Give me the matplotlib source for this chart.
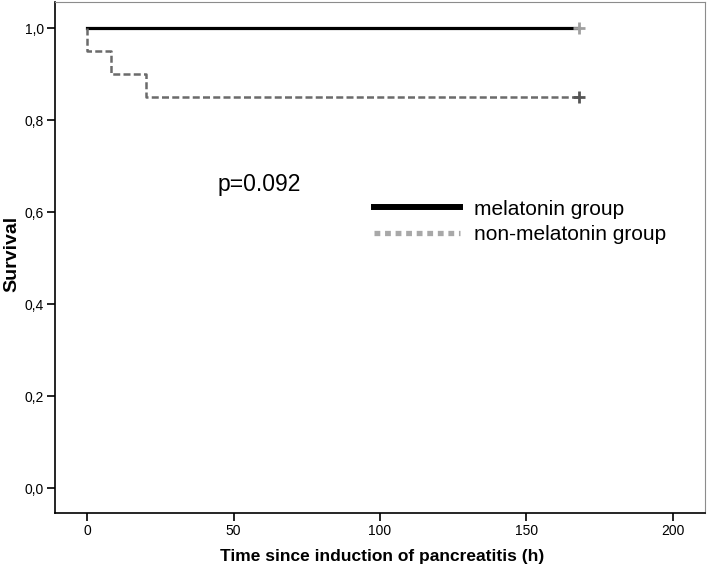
import matplotlib
matplotlib.use("Agg")
import matplotlib.pyplot as plt
from matplotlib.lines import Line2D

plt.rcParams['font.family'] = ['Liberation Sans Narrow', 'Liberation Sans', 'DejaVu Sans']

# Kaplan-Meier step data
mel_t = [0, 168]
mel_s = [1.0, 1.0]
non_t = [0, 0, 8, 20, 168]
non_s = [1.0, 0.95, 0.90, 0.85, 0.85]
censor_t = 168
mel_censor = 1.0
non_censor = 0.85

xticks = [0, 50, 100, 150, 200]
yticks = [0.0, 0.2, 0.4, 0.6, 0.8, 1.0]
ytick_labels = ["0,0", "0,2", "0,4", "0,6", "0,8", "1,0"]

fig = plt.figure(figsize=(7.09, 5.67), dpi=100)
ax = fig.add_axes([55 / 709, 1 - 513 / 567, 650 / 709, 511 / 567])

ax.step(mel_t, mel_s, where="post", color="black", lw=2.3)
ax.step(non_t, non_s, where="post", color="#6b6b6b", lw=1.8, ls=(0, (2.8, 1.3)))
ax.plot(censor_t, mel_censor, marker="+", color="#a0a0a0", ms=9, mew=2)
ax.plot(censor_t, non_censor, marker="+", color="#555555", ms=9, mew=2)

ax.set_xlim(-11, 211)
ax.set_ylim(-0.054, 1.057)
ax.set_xticks(xticks)
ax.set_xticklabels([str(v) for v in xticks], fontsize=10)
ax.set_yticks(yticks)
ax.set_yticklabels(ytick_labels, fontsize=10)
ax.tick_params(axis="both", direction="out", length=6, width=1.2, color="black", pad=2)

for side in ["top", "right"]:
    ax.spines[side].set_color("#8c8c8c")
for side in ["left", "bottom"]:
    ax.spines[side].set_color("black")
    ax.spines[side].set_linewidth(1.2)

ax.set_xlabel("Time since induction of pancreatitis (h)", fontsize=12.5, fontweight="bold")
ax.xaxis.set_label_coords((382 - 55) / 650, -(549 - 513) / 511)
ax.set_ylabel("Survival", fontsize=14, fontweight="bold")
ax.yaxis.set_label_coords(-(55 - 20) / 650, (513 - 254) / 511)

ax.text(44.5, 0.66, "p=0.092", fontsize=16.5, va="center",
        family=["Liberation Sans", "DejaVu Sans"])

handles = [
    Line2D([], [], color="black", lw=4.3),
    Line2D([], [], color="#a8a8a8", lw=3.8, ls=(0, (1.1, 0.9))),
]
leg = ax.legend(handles, ["melatonin group", "non-melatonin group"],
                loc="upper left", bbox_to_anchor=(0.491, 0.613), frameon=False,
                handlelength=4.1, handletextpad=0.7, labelspacing=0.3,
                borderaxespad=0, borderpad=0,
                prop={"family": ["Liberation Sans", "DejaVu Sans"], "size": 15})

fig.savefig("out.png", dpi=100)
